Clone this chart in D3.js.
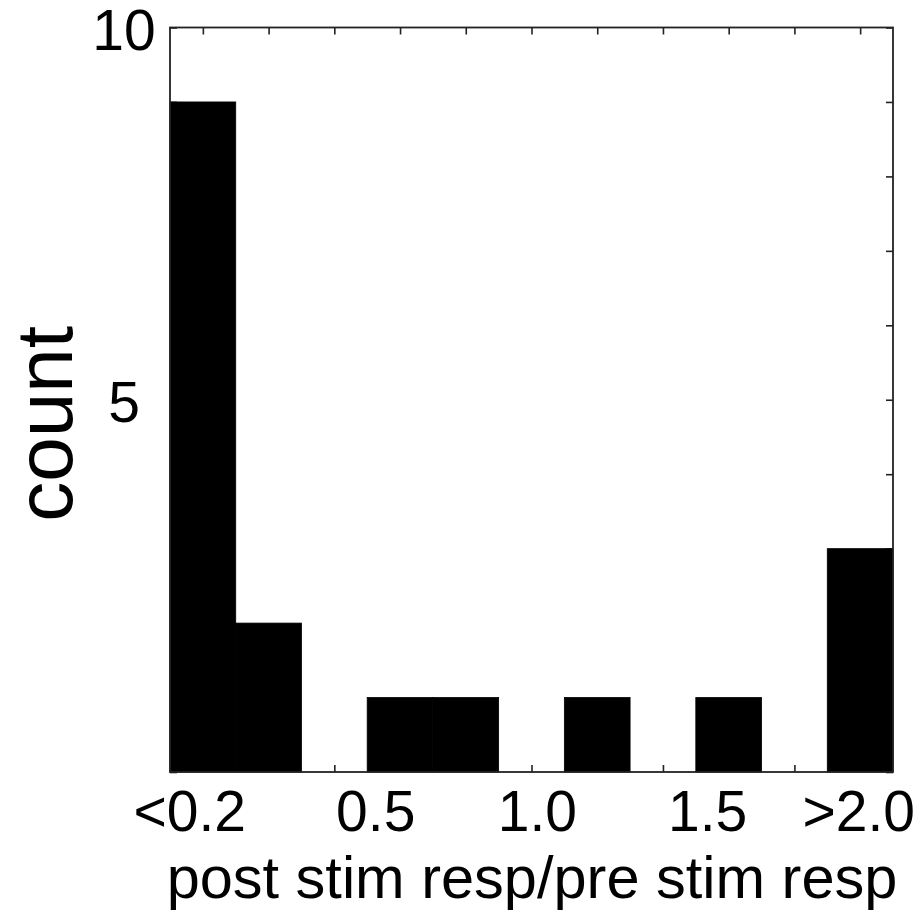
<!DOCTYPE html>
<html>
<head>
<meta charset="utf-8">
<script src="https://cdn.jsdelivr.net/npm/d3@7"></script>
<style>
  html, body { margin: 0; padding: 0; background: #fff; }
  svg text { font-family: "Liberation Sans", Arial, Helvetica, sans-serif; fill: #000; }
</style>
</head>
<body>
<svg id="chart" width="924" height="917"></svg>
<script>
// Histogram bins of the post/pre stimulation response ratio
const binLabels = ["<0.2", "0.2–0.4", "0.4–0.6", "0.6–0.8", "0.8–1.0", "1.0–1.2",
                   "1.2–1.4", "1.4–1.6", "1.6–1.8", "1.8–2.0", ">2.0"];
const counts = [9, 2, 0, 1, 1, 0, 1, 0, 1, 0, 3];

// Axis labels (x positions given in bin units)
const xTickLabels = ["<0.2", "0.5", "1.0", "1.5", ">2.0"];
const xTickAt = [0.3, 3.13, 5.59, 8.18, 10.48];
const yTickLabels = [10, 5];
const yTicks = [0, 1, 2, 3, 4, 5, 6, 7, 8, 9, 10];

const plot = { left: 170, right: 893, top: 27.5, bottom: 772 };
const svg = d3.select("#chart");

const x = d3.scaleLinear().domain([0, binLabels.length]).range([plot.left, plot.right]);
const y = d3.scaleLinear().domain([0, 10]).range([plot.bottom, plot.top]);

// Inward ticks on all four sides (drawn first so the bars cover them)
const centers = binLabels.map((_, i) => i + 0.5);
const tickLen = 7;
function styleAxis(g) {
  g.select(".domain").remove();
  g.selectAll(".tick line").attr("stroke", "#222").attr("stroke-width", 1.6);
  g.selectAll(".tick text").remove();
}
svg.append("g").attr("transform", `translate(0,${plot.bottom})`)
  .call(d3.axisTop(x).tickValues(centers).tickSize(tickLen)).call(styleAxis);
svg.append("g").attr("transform", `translate(0,${plot.top})`)
  .call(d3.axisBottom(x).tickValues(centers).tickSize(tickLen)).call(styleAxis);
svg.append("g").attr("transform", `translate(${plot.left},0)`)
  .call(d3.axisRight(y).tickValues(yTicks).tickSize(tickLen)).call(styleAxis);
svg.append("g").attr("transform", `translate(${plot.right},0)`)
  .call(d3.axisLeft(y).tickValues(yTicks).tickSize(tickLen)).call(styleAxis);

// Bars
svg.append("g")
  .selectAll("rect")
  .data(counts.map((c, i) => ({ c, i })).filter(d => d.c > 0))
  .join("rect")
  .attr("x", d => x(d.i))
  .attr("width", d => x(d.i + 1) - x(d.i))
  .attr("y", d => y(d.c))
  .attr("height", d => y(0) - y(d.c))
  .attr("fill", "#000")
  .attr("stroke", "#000")
  .attr("stroke-width", 0.8);

// Frame
svg.append("rect")
  .attr("x", plot.left).attr("y", plot.top)
  .attr("width", plot.right - plot.left).attr("height", plot.bottom - plot.top)
  .attr("fill", "none").attr("stroke", "#222").attr("stroke-width", 1.8);

// X tick labels
svg.append("g")
  .selectAll("text")
  .data(xTickLabels)
  .join("text")
  .attr("x", (d, i) => x(xTickAt[i]))
  .attr("y", 831)
  .attr("text-anchor", "middle")
  .attr("font-size", 57)
  .text(d => d);

// Y tick labels
svg.append("g")
  .selectAll("text")
  .data(yTickLabels)
  .join("text")
  .attr("x", 124)
  .attr("y", d => y(d) + 22)
  .attr("text-anchor", "middle")
  .attr("font-size", 57)
  .text(d => d);

// Axis titles
svg.append("text")
  .attr("x", 532)
  .attr("y", 898)
  .attr("text-anchor", "middle")
  .attr("font-size", 59.5)
  .text("post stim resp/pre stim resp");

svg.append("text")
  .attr("transform", "translate(72,424) rotate(-90)")
  .attr("text-anchor", "middle")
  .attr("font-size", 80)
  .text("count");
</script>
</body>
</html>
